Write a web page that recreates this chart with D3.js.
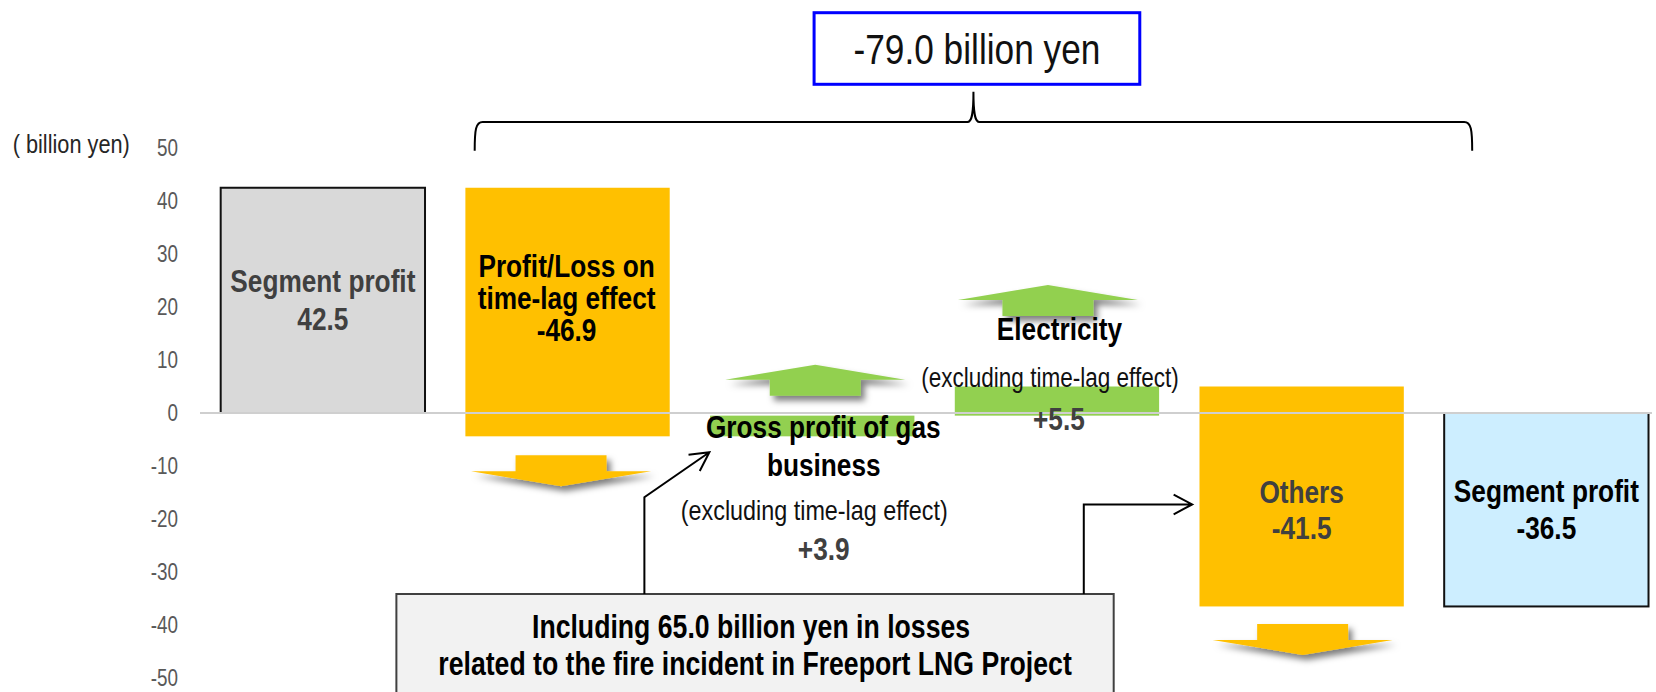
<!DOCTYPE html>
<html><head><meta charset="utf-8">
<script src="https://cdn.jsdelivr.net/npm/d3@7"></script>
<style>html,body{margin:0;padding:0;background:#fff;overflow:hidden}svg{display:block}</style>
</head><body>
<svg id="chart" width="1656" height="692"></svg>
<script>
// ---------------- data ----------------
const categories = ["Segment profit (prev)", "Profit/Loss on time-lag effect", "Gross profit of gas business", "Electricity", "Others", "Segment profit (curr)"];
const values = [42.5, -46.9, 3.9, 5.5, -41.5, -36.5];
const kinds = ["total", "delta", "delta", "delta", "delta", "total"];
const yTicks = [50, 40, 30, 20, 10, 0, -10, -20, -30, -40, -50];
const unitLabel = "( billion yen)";
const totalChangeLabel = "-79.0 billion yen";
const noteLines = ["Including 65.0 billion yen in losses", "related to the fire incident in Freeport LNG Project"];
const barLabels = [
  ["Segment profit", "42.5"],
  ["Profit/Loss on", "time-lag effect", "-46.9"],
  ["Gross profit of gas", "business", "(excluding time-lag effect)", "+3.9"],
  ["Electricity", "(excluding time-lag effect)", "+5.5"],
  ["Others", "-41.5"],
  ["Segment profit", "-36.5"]
];

// ---------------- setup ----------------
const svg = d3.select("#chart");

function hasFont(fam) {
  const t = svg.append("text").attr("font-size", 40).text("Segment profit 42.5");
  t.attr("font-family", `'${fam}', monospace`);
  const a = t.node().getComputedTextLength();
  t.attr("font-family", "monospace");
  const b = t.node().getComputedTextLength();
  t.remove();
  return Math.abs(a - b) > 0.5;
}
let FAM, SX;
if (hasFont("Liberation Sans Narrow")) { FAM = "'Liberation Sans Narrow'"; SX = 1; }
else { FAM = "'Liberation Sans', Arial, sans-serif"; SX = 0.82; }

function txt(parent, x, y, str, o) {
  o = o || {};
  return parent.append("text")
    .attr("transform", `translate(${x},${y}) scale(${SX},1)`)
    .attr("text-anchor", o.anchor || "middle")
    .attr("font-family", FAM)
    .attr("font-size", o.size || 32)
    .attr("font-weight", o.weight || "normal")
    .attr("fill", o.fill || "#000")
    .text(str);
}

const defs = svg.append("defs");
defs.append("filter").attr("id", "shadow").attr("x", "-20%").attr("y", "-60%").attr("width", "150%").attr("height", "260%")
  .append("feDropShadow").attr("dx", 4).attr("dy", 5).attr("stdDeviation", 3.2)
  .attr("flood-color", "#000").attr("flood-opacity", 0.5);

// scales
const y = d3.scaleLinear().domain([-50, 50]).range([678, 148]);
const x = d3.scaleBand().domain(categories).range([200.5, 1668.7]).paddingInner(0.165).paddingOuter(0.0825);
const bw = x.bandwidth();

// waterfall computation
let run = 0;
const bars = values.map((v, i) => {
  let y0, y1;
  if (kinds[i] === "total") { y0 = 0; y1 = v; run = v; }
  else { y0 = run; y1 = run + v; run = y1; }
  return { cat: categories[i], v, y0, y1, kind: kinds[i], i };
});

function fillFor(d) {
  if (d.kind === "total") return d.i === 0 ? "#d9d9d9" : "#cdeeff";
  return d.v < 0 ? "#ffc000" : "#92d050";
}

// y axis labels
const ax = svg.append("g").attr("class", "y-axis");
yTicks.forEach(t => {
  txt(ax, 178, y(t) + 8.3, String(t), { size: 23, fill: "#595959", anchor: "end" });
});
txt(svg, 12.7, 153.3, unitLabel, { size: 26.5, fill: "#262626", anchor: "start" });

// bars
const gBars = svg.append("g");
gBars.selectAll("rect").data(bars).join("rect")
  .attr("x", d => x(d.cat))
  .attr("width", bw)
  .attr("y", d => y(Math.max(d.y0, d.y1)))
  .attr("height", d => Math.abs(y(d.y0) - y(d.y1)))
  .attr("fill", fillFor)
  .attr("stroke", d => d.kind === "total" ? "#111" : "none")
  .attr("stroke-width", 2);

// zero line
svg.append("line").attr("x1", 200).attr("x2", 1652).attr("y1", y(0)).attr("y2", y(0))
  .attr("stroke", "#cfcfcf").attr("stroke-width", 2);

// block arrows
function blockArrow(cx, base, dir, color) {
  // dir -1 = up (base = shaft bottom), +1 = down (base = shaft top)
  const sw = 45.5, hw = 90, sl = 16, hh = 15;
  const p = [
    [cx - sw, base], [cx + sw, base], [cx + sw, base + dir * sl], [cx + hw, base + dir * sl],
    [cx, base + dir * (sl + hh)], [cx - hw, base + dir * sl], [cx - sw, base + dir * sl]
  ];
  svg.append("path").attr("d", "M" + p.map(q => q.join(",")).join("L") + "Z")
    .attr("fill", color).attr("filter", "url(#shadow)");
}
const cen = i => x(categories[i]) + bw / 2;
const b1 = bars[1], b2 = bars[2], b3 = bars[3], b4 = bars[4];
blockArrow(cen(1) - 6.5, y(b1.y1) + 19, 1, "#ffc000");
blockArrow(cen(2) + 3, y(b2.y1) - 20, -1, "#92d050");
blockArrow(cen(3) - 9, y(b3.y1) - 70.5, -1, "#92d050");
blockArrow(cen(4) + 1, y(b4.y1) + 17.5, 1, "#ffc000");

// bar labels
const gL = svg.append("g");
const DG = "#404040";
{
  const mid = (y(bars[0].y0) + y(bars[0].y1)) / 2;
  txt(gL, cen(0), mid - 8, barLabels[0][0], { weight: "bold", fill: DG });
  txt(gL, cen(0), mid + 29.4, barLabels[0][1], { weight: "bold", fill: DG });
}
{
  const mid = (y(bars[1].y0) + y(bars[1].y1)) / 2;
  [-35.5, -3.5, 28.5].forEach((dy, k) => txt(gL, cen(1) - 1, mid + dy, barLabels[1][k], { weight: "bold" }));
}
{
  const bot = y(bars[2].y0);
  txt(gL, cen(2) + 11, bot + 1.8, barLabels[2][0], { weight: "bold" });
  txt(gL, cen(2) + 11.5, bot + 39.3, barLabels[2][1], { weight: "bold" });
  txt(gL, cen(2) + 2, bot + 83.3, barLabels[2][2], { size: 28.5, fill: "#111" });
  txt(gL, cen(2) + 11.5, bot + 123.3, barLabels[2][3], { weight: "bold", fill: DG });
}
{
  const top = y(bars[3].y1);
  txt(gL, cen(3) + 2.5, top - 46.5, barLabels[3][0], { weight: "bold" });
  txt(gL, cen(3) - 7, top + 0.2, barLabels[3][1], { size: 27.5, fill: "#111" });
  txt(gL, cen(3) + 2, top + 43.5, barLabels[3][2], { weight: "bold", fill: DG });
}
{
  const mid = (y(bars[4].y0) + y(bars[4].y1)) / 2;
  txt(gL, cen(4), mid + 6.6, barLabels[4][0], { weight: "bold", fill: DG });
  txt(gL, cen(4), mid + 42.6, barLabels[4][1], { weight: "bold", fill: DG });
}
{
  const mid = (y(bars[5].y0) + y(bars[5].y1)) / 2;
  txt(gL, cen(5), mid - 7.3, barLabels[5][0], { weight: "bold" });
  txt(gL, cen(5), mid + 29.3, barLabels[5][1], { weight: "bold" });
}

// brace + total change box
{
  const L = x(categories[1]) + 9.3, R = x(categories[5]) + 28;
  const M = (L + R) / 2, hy = 122, by = 150.7, ty = 91.7;
  const d = `M${L},${by} C${L},${hy + 8} ${L + 1},${hy} ${L + 8},${hy} H${M - 6} C${M - 2},${hy} ${M},${hy - 6} ${M},${ty} ` +
    `C${M},${hy - 6} ${M + 2},${hy} ${M + 6},${hy} H${R - 8} C${R - 1},${hy} ${R},${hy + 8} ${R},${by}`;
  svg.append("path").attr("d", d).attr("fill", "none").attr("stroke", "#000").attr("stroke-width", 2);
  const bx = M + 3.5, bwid = 325.7;
  svg.append("rect").attr("x", bx - bwid / 2).attr("y", 12.7).attr("width", bwid).attr("height", 71.6)
    .attr("fill", "#fff").attr("stroke", "#0000ff").attr("stroke-width", 3);
  txt(svg, bx, 64, totalChangeLabel, { size: 43, fill: "#111" });
}

// note box + connectors
{
  const nx = x(categories[1]) - 69, nw = 717.3, ny = 594;
  svg.append("rect").attr("x", nx).attr("y", ny).attr("width", nw).attr("height", 120)
    .attr("fill", "#f2f2f2").attr("stroke", "#404040").attr("stroke-width", 2);
  txt(svg, nx + nw / 2 - 4, 638.3, noteLines[0], { weight: "bold", size: 32.5 });
  txt(svg, nx + nw / 2, 675, noteLines[1], { weight: "bold", size: 32.5 });

  function chevron(tx, ty, fx, fy) {
    const a = Math.atan2(fy - ty, fx - tx), len = 21, sp = 28 * Math.PI / 180;
    const p1 = [tx + len * Math.cos(a + sp), ty + len * Math.sin(a + sp)];
    const p2 = [tx + len * Math.cos(a - sp), ty + len * Math.sin(a - sp)];
    return `M${p1}L${tx},${ty}L${p2}`;
  }
  const v1x = x(categories[2]) - 65.7, k1y = 497.3, t1x = x(categories[2]) - 0.7, t1y = 452.3;
  svg.append("path").attr("d", `M${v1x},${ny}V${k1y}L${t1x},${t1y}` + chevron(t1x, t1y, v1x, k1y))
    .attr("fill", "none").attr("stroke", "#000").attr("stroke-width", 2);
  const v2x = x(categories[3]) + 129, k2y = 504.4, t2x = x(categories[4]) - 7.3;
  svg.append("path").attr("d", `M${v2x},${ny}V${k2y}H${t2x}` + chevron(t2x, k2y, v2x, k2y))
    .attr("fill", "none").attr("stroke", "#000").attr("stroke-width", 2);
}
</script>
</body></html>
